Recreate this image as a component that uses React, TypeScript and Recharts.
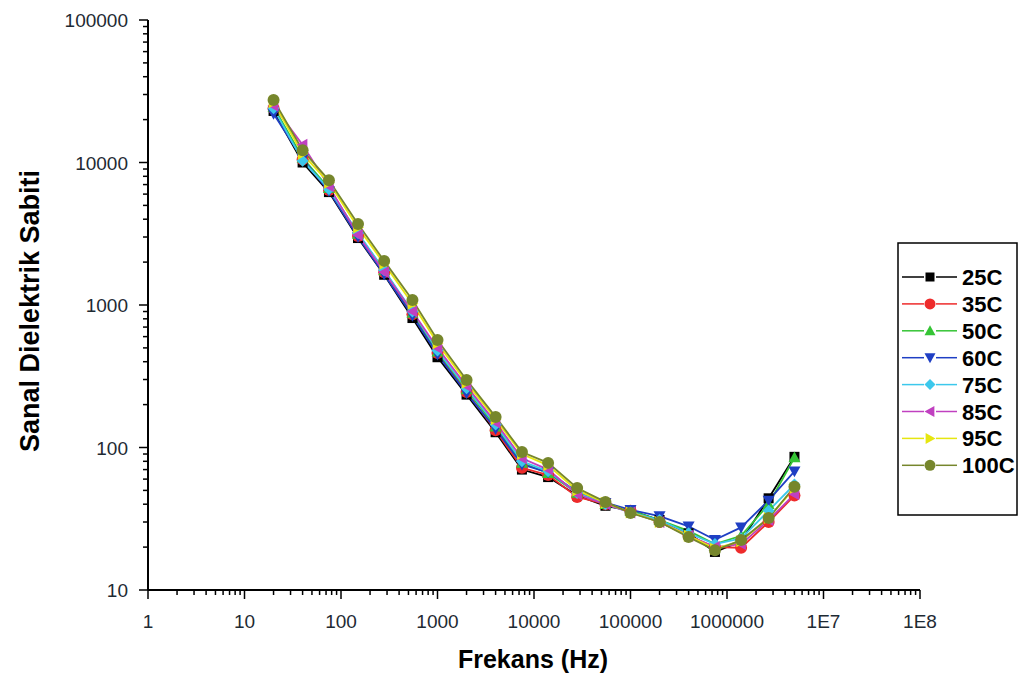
import React from "react";
import { LineChart, Line, XAxis, YAxis, Legend } from "recharts";

const freqs = [20, 40, 75, 150, 280, 550, 1000, 2000, 4000, 7500, 14000, 28000, 55000, 100000, 200000, 400000, 750000, 1400000, 2700000, 5000000];

const c25 = [23000, 10000, 6200, 2950, 1630, 810, 430, 235, 128, 70, 62, 46, 39, 36, 31, 25, 18.5, 22, 44, 86];
const c35 = [24000, 10500, 6400, 3050, 1700, 860, 460, 245, 132, 72, 64, 45, 40, 36, 30, 24, 20, 19.8, 30, 46];
const c50 = [24500, 10800, 6600, 3150, 1750, 880, 470, 255, 140, 78, 66, 48, 40, 36, 31, 26, 21, 24, 40, 85];
const c60 = [22000, 10600, 6300, 3000, 1640, 840, 450, 240, 135, 76, 67, 49, 41, 36.5, 33, 28, 22.5, 27.5, 42.5, 68];
const c75 = [24000, 10300, 6500, 3200, 1750, 900, 480, 260, 145, 80, 68, 48, 40, 35, 31, 25, 21, 23, 36, 55];
const c85 = [25000, 13300, 6800, 3100, 1700, 900, 500, 270, 150, 84, 70, 47, 40, 35, 30, 24, 20, 21, 31, 47];
const c95 = [26500, 11500, 7200, 3500, 1950, 1020, 540, 285, 158, 90, 75, 50, 41, 35, 30, 24, 19.5, 22, 32, 52];
const c100 = [27500, 12200, 7500, 3700, 2040, 1085, 568, 298, 164, 93, 78, 52, 41.5, 34.7, 30, 23.5, 19, 22.4, 32, 53];

const xMajor = [1, 10, 100, 1000, 10000, 100000, 1000000, 10000000, 100000000];
const yMajor = [10, 100, 1000, 10000, 100000];
const xTicks = [...xMajor, ...xMajor.slice(0, -1).flatMap((m) => [2, 3, 4, 5, 6, 7, 8, 9].map((k) => m * k))];
const yTicks = [...yMajor, ...yMajor.slice(0, -1).flatMap((m) => [2, 3, 4, 5, 6, 7, 8, 9].map((k) => m * k))];

const series = [
  { key: "t25", name: "25C", color: "#000000", shape: "square", values: c25 },
  { key: "t35", name: "35C", color: "#ee2b2b", shape: "circle", values: c35 },
  { key: "t50", name: "50C", color: "#35c435", shape: "up", values: c50 },
  { key: "t60", name: "60C", color: "#1f3fc4", shape: "down", values: c60 },
  { key: "t75", name: "75C", color: "#3cc8ec", shape: "diamond", values: c75 },
  { key: "t85", name: "85C", color: "#c040c0", shape: "left", values: c85 },
  { key: "t95", name: "95C", color: "#e6e610", shape: "right", values: c95 },
  { key: "t100", name: "100C", color: "#76862c", shape: "circle", values: c100 },
];

const data = freqs.map((f, i) => {
  const row: Record<string, number> = { freq: f };
  series.forEach((s) => (row[s.key] = s.values[i]));
  return row;
});

const font = "'Liberation Sans', Arial, sans-serif";

function Marker({ shape, cx, cy, color, r = 6 }: { shape: string; cx: number; cy: number; color: string; r?: number }) {
  switch (shape) {
    case "square":
      return <rect x={cx - r + 1} y={cy - r + 1} width={2 * r - 2} height={2 * r - 2} fill={color} />;
    case "up":
      return <polygon points={`${cx},${cy - r} ${cx + r},${cy + r * 0.8} ${cx - r},${cy + r * 0.8}`} fill={color} />;
    case "down":
      return <polygon points={`${cx},${cy + r} ${cx + r},${cy - r * 0.8} ${cx - r},${cy - r * 0.8}`} fill={color} />;
    case "diamond":
      return <polygon points={`${cx},${cy - r} ${cx + r},${cy} ${cx},${cy + r} ${cx - r},${cy}`} fill={color} />;
    case "left":
      return <polygon points={`${cx - r},${cy} ${cx + r * 0.8},${cy - r} ${cx + r * 0.8},${cy + r}`} fill={color} />;
    case "right":
      return <polygon points={`${cx + r},${cy} ${cx - r * 0.8},${cy - r} ${cx - r * 0.8},${cy + r}`} fill={color} />;
    default:
      return <circle cx={cx} cy={cy} r={r} fill={color} />;
  }
}

const fmtX = (v: number) => (v >= 1e7 ? `1E${Math.round(Math.log10(v))}` : String(v));

function XTick(props: any) {
  const { x, y, payload } = props;
  const v = payload.value;
  const major = xMajor.includes(v);
  return (
    <g>
      <line x1={x} y1={y} x2={x} y2={y + (major ? 9 : 5)} stroke="#000" strokeWidth={1.5} />
      {major && (
        <text x={x} y={y + 38} textAnchor="middle" fontSize={19} fill="#1e2a33" fontFamily={font}>
          {fmtX(v)}
        </text>
      )}
    </g>
  );
}

function YTick(props: any) {
  const { x, y, payload } = props;
  const v = payload.value;
  const major = yMajor.includes(v);
  return (
    <g>
      <line x1={x} y1={y} x2={x - (major ? 9 : 5)} y2={y} stroke="#000" strokeWidth={1.5} />
      {major && (
        <text x={x - 20} y={y + 7} textAnchor="end" fontSize={19} fill="#1e2a33" fontFamily={font}>
          {v}
        </text>
      )}
    </g>
  );
}

function YLabel() {
  return (
    <text x={39} y={311} transform="rotate(-90 39 311)" textAnchor="middle" fontSize={27} fontWeight="bold" fill="#000" fontFamily={font}>
      Sanal Dielektrik Sabiti
    </text>
  );
}

function XLabel() {
  return (
    <text x={533} y={668} textAnchor="middle" fontSize={25} fontWeight="bold" fill="#000" fontFamily={font}>
      Frekans (Hz)
    </text>
  );
}

function LegendBox() {
  return (
    <svg width={121} height={274}>
      <rect x={1} y={1} width={119} height={272} fill="#fff" stroke="#000" strokeWidth={1.5} />
      {series.map((s, i) => {
        const cy = 35 + i * 26.9;
        return (
          <g key={s.key}>
            <line x1={5} y1={cy} x2={27} y2={cy} stroke={s.color} strokeWidth={1.5} />
            <line x1={39} y1={cy} x2={60} y2={cy} stroke={s.color} strokeWidth={1.5} />
            <Marker shape={s.shape} cx={33} cy={cy} color={s.color} r={5.5} />
            <text x={65} y={cy + 8} fontSize={22} fontWeight="bold" fill="#000" fontFamily={font}>
              {s.name}
            </text>
          </g>
        );
      })}
    </svg>
  );
}

export default function App() {
  return (
    <div style={{ position: "absolute", left: 0, top: 0, width: 1025, height: 686, background: "#fff" }}>
      <LineChart width={1025} height={686} data={data} margin={{ top: 20, right: 105, bottom: 0, left: 0 }}>
        <XAxis
          dataKey="freq"
          type="number"
          scale="log"
          domain={[1, 100000000]}
          ticks={xTicks}
          interval={0}
          tick={<XTick />}
          tickLine={false}
          tickSize={0}
          tickMargin={0}
          axisLine={{ stroke: "#000", strokeWidth: 2 }}
          height={96}
          label={<XLabel />}
        />
        <YAxis
          type="number"
          scale="log"
          domain={[10, 100000]}
          ticks={yTicks}
          interval={0}
          tick={<YTick />}
          tickLine={false}
          tickSize={0}
          tickMargin={0}
          axisLine={{ stroke: "#000", strokeWidth: 2 }}
          width={148}
          label={<YLabel />}
        />
        <Legend
          layout="horizontal"
          verticalAlign="middle"
          align="center"
          content={() => <LegendBox />}
          wrapperStyle={{ left: 897, top: 242, width: 121, height: 274 }}
        />
        {series.map((s) => (
          <Line
            key={s.key}
            dataKey={s.key}
            name={s.name}
            stroke={s.color}
            strokeWidth={1.8}
            type="linear"
            isAnimationActive={false}
            dot={(p: any) => (
              <Marker key={`${s.key}-${p.index}`} shape={s.shape} cx={p.cx} cy={p.cy} color={s.color} r={6} />
            )}
            activeDot={false}
          />
        ))}
      </LineChart>
    </div>
  );
}
